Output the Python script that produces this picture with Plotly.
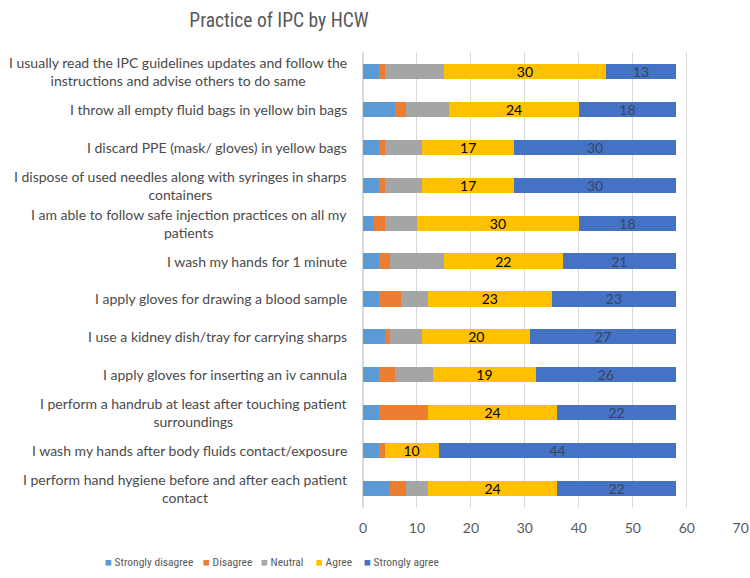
import plotly.graph_objects as go

categories = [
    "I usually read the IPC guidelines updates and follow the<br>instructions and advise others to do same",
    "I throw all empty fluid bags in yellow bin bags",
    "I discard PPE (mask/ gloves) in yellow bags",
    "I dispose of used needles along with syringes in sharps<br>containers",
    "I am able to follow safe injection practices on all my<br>patients",
    "I wash my hands for 1 minute",
    "I apply gloves for drawing a blood sample",
    "I use a kidney dish/tray for carrying sharps",
    "I apply gloves for inserting an iv cannula",
    "I perform a handrub at least after touching patient<br>surroundings",
    "I wash my hands after body fluids contact/exposure",
    "I perform hand hygiene before and after each patient<br>contact",
]

strongly_disagree = [3, 6, 3, 3, 2, 3, 3, 4, 3, 3, 3, 5]
disagree = [1, 2, 1, 1, 2, 2, 4, 1, 3, 9, 1, 3]
neutral = [11, 8, 7, 7, 6, 10, 5, 6, 7, 0, 0, 4]
agree = [30, 24, 17, 17, 30, 22, 23, 20, 19, 24, 10, 24]
strongly_agree = [13, 18, 30, 30, 18, 21, 23, 27, 26, 22, 44, 22]

series_names = ["Strongly disagree", "Disagree", "Neutral", "Agree", "Strongly agree"]
series_values = [strongly_disagree, disagree, neutral, agree, strongly_agree]
series_colors = ["#5B9BD5", "#ED7D31", "#A5A5A5", "#FFC000", "#4472C4"]
label_colors = [None, None, None, "#000000", "#3a4560"]

FONT = "Lato"
NARROW = "Liberation Sans Narrow, Roboto Condensed, Lato"

W, H = 750, 578
L, R, T, B = 363, 9, 52, 70
PW, PH = W - L - R, H - T - B

fig = go.Figure()
for name, vals, color, tcolor in zip(series_names, series_values, series_colors, label_colors):
    if tcolor:
        kw = dict(
            text=[str(v) for v in vals],
            texttemplate="%{text}",
            textposition="inside",
            insidetextanchor="middle",
            textangle=0,
            constraintext="none",
            textfont=dict(family=FONT, size=14, color=tcolor),
        )
    else:
        kw = dict(textposition="none")
    fig.add_trace(go.Bar(
        name=name, x=vals, y=categories, orientation="h",
        marker=dict(color=color, line=dict(width=0)), **kw
    ))

# category labels (centred multi-line, right-anchored like the original)
for c in categories:
    fig.add_annotation(
        text=c, x=-14 / PW, xref="paper", y=c, yref="y",
        xanchor="right", yanchor="middle", align="center", showarrow=False,
        font=dict(family=FONT, size=14, color="#4a4a4a"),
    )

# compact legend row (Excel style)
legend_x = [103, 201, 259, 314, 362]
for name, color, lx in zip(series_names, series_colors, legend_x):
    fig.add_annotation(
        text=f'<span style="color:{color}">■</span> {name}',
        x=(lx - L) / PW, xref="paper", y=(H - B - 562) / PH, yref="paper",
        xanchor="left", yanchor="middle", showarrow=False,
        font=dict(family=NARROW, size=11.5, color="#595959"),
    )

fig.update_layout(
    width=W, height=H,
    barmode="stack", bargap=0.6,
    paper_bgcolor="white", plot_bgcolor="white",
    margin=dict(l=L, r=R, t=T, b=B, autoexpand=False),
    title=dict(text="Practice of IPC by HCW", x=0.372, xref="container", xanchor="center",
               y=0.965, yref="container", yanchor="middle",
               font=dict(family=NARROW, size=19.5, color="#595959")),
    showlegend=False,
)

fig.update_xaxes(range=[0, 70.05], dtick=10, tick0=0, showgrid=True, gridcolor="#D9D9D9",
                 gridwidth=1, zeroline=True, zerolinecolor="#D9D9D9", showline=False,
                 ticklabeloverflow="allow", ticklabelstandoff=10,
                 tickfont=dict(family=FONT, size=14, color="#595959"), ticks="")
fig.update_yaxes(categoryorder="array", categoryarray=categories, autorange="reversed",
                 showticklabels=False, showgrid=False, showline=False, ticks="")

fig.write_html("out.html")
